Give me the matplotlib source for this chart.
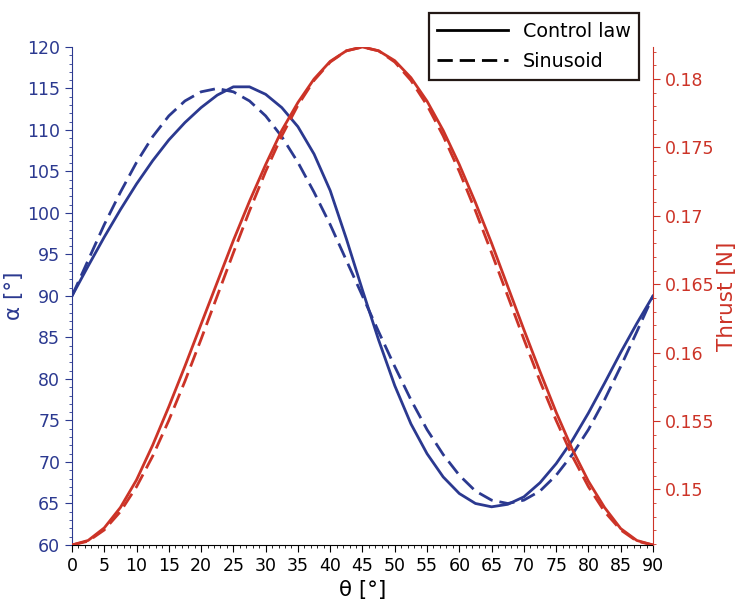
import numpy as np
import matplotlib
matplotlib.use("Agg")
import matplotlib.pyplot as plt
from matplotlib.lines import Line2D
from matplotlib.ticker import MultipleLocator

## Data (theta in degrees, every 2.5)
theta = np.arange(0, 90.1, 2.5)

alpha_law = [90.0, 93.6, 97.1, 100.4, 103.5, 106.3, 108.8, 110.9, 112.7, 114.2,
             115.2, 115.2, 114.3, 112.7, 110.4, 107.1, 102.7, 96.9, 90.7, 84.7,
             79.2, 74.6, 71.0, 68.2, 66.2, 65.0, 64.6, 64.9, 65.8, 67.5,
             69.8, 72.6, 75.9, 79.5, 83.2, 86.7, 90.0]
alpha_sin = [90.0, 94.3, 98.6, 102.5, 106.1, 109.2, 111.7, 113.5, 114.6, 115.0,
             114.6, 113.5, 111.7, 109.2, 106.1, 102.5, 98.6, 94.3, 90.0, 85.7,
             81.5, 77.5, 73.9, 70.9, 68.4, 66.5, 65.4, 65.0, 65.4, 66.5,
             68.4, 70.9, 73.9, 77.5, 81.5, 85.7, 90.0]

thrust_law = [0.14593, 0.14626, 0.14718, 0.14867, 0.15069, 0.15323, 0.15604, 0.15901,
              0.16208, 0.16514, 0.16820, 0.17107, 0.17375, 0.17625, 0.17829, 0.18001,
              0.18130, 0.18207, 0.18235, 0.18207, 0.18135, 0.18011, 0.17839, 0.17625,
              0.17375, 0.17097, 0.16800, 0.16484, 0.16168, 0.15861, 0.15564, 0.15293,
              0.15059, 0.14867, 0.14713, 0.14626, 0.14593]
thrust_sin = [0.14593, 0.14621, 0.14703, 0.14837, 0.15019, 0.15243, 0.15504, 0.15791,
              0.16098, 0.16414, 0.16730, 0.17037, 0.17325, 0.17585, 0.17809, 0.17991,
              0.18125, 0.18207, 0.18235, 0.18207, 0.18125, 0.17991, 0.17809, 0.17585,
              0.17325, 0.17037, 0.16730, 0.16414, 0.16098, 0.15791, 0.15504, 0.15243,
              0.15019, 0.14837, 0.14703, 0.14621, 0.14593]

blue = "#2b3990"
red = "#cc3327"
dash = (0, (5.5, 2.5))

fig = plt.figure(figsize=(7.39, 6.01), dpi=100)
ax = fig.add_axes([0.0974, 0.0932, 0.7862, 0.8286])
ax2 = ax.twinx()

ax.plot(theta, alpha_law, "-", color=blue, lw=2)
ax.plot(theta, alpha_sin, linestyle=dash, color=blue, lw=2)
ax2.plot(theta, thrust_law, "-", color=red, lw=2)
ax2.plot(theta, thrust_sin, linestyle=dash, color=red, lw=2)

ax.set_xlim(0, 90)
ax.set_ylim(60, 120)
ax2.set_ylim(0.14593, 0.18235)

ax.xaxis.set_major_locator(MultipleLocator(5))
ax.xaxis.set_minor_locator(MultipleLocator(1))
ax.yaxis.set_major_locator(MultipleLocator(5))
ax.yaxis.set_minor_locator(MultipleLocator(1))
ax2.yaxis.set_minor_locator(MultipleLocator(0.001))
ax2.set_yticks([0.15, 0.155, 0.16, 0.165, 0.17, 0.175, 0.18])
ax2.set_yticklabels(["0.15", "0.155", "0.16", "0.165", "0.17", "0.175", "0.18"])

# spines
for a in (ax, ax2):
    a.spines["top"].set_visible(False)
ax.spines["right"].set_visible(False)
ax2.spines["left"].set_visible(False)
ax2.spines["bottom"].set_visible(False)
ax.spines["left"].set_color(blue)
ax2.spines["right"].set_color(red)

ax.tick_params(axis="x", which="major", direction="out", length=5, labelsize=12.5, colors="black")
ax.tick_params(axis="x", which="minor", direction="out", length=2.5)
ax.tick_params(axis="y", which="major", direction="out", length=5, labelsize=12.5, colors=blue)
ax.tick_params(axis="y", which="minor", direction="out", length=2.5, colors=blue)
ax2.tick_params(axis="y", which="major", direction="out", length=5, labelsize=12.5, colors=red)
ax2.tick_params(axis="y", which="minor", direction="out", length=2.5, colors=red)

ax.set_xlabel("θ [°]", fontsize=15.5, labelpad=4)
ax.set_ylabel("α [°]", fontsize=15.5, color=blue, labelpad=2)
ax2.set_ylabel("Thrust [N]", fontsize=15.5, color=red, labelpad=2)

handles = [Line2D([], [], color="black", lw=2, linestyle="-"),
           Line2D([], [], color="black", lw=2, linestyle=dash)]
leg = ax2.legend(handles, ["Control law", "Sinusoid"], loc="upper right",
                 bbox_to_anchor=(0.8647, 0.9784), bbox_transform=fig.transFigure,
                 fontsize=13.8, fancybox=False, framealpha=1, edgecolor="#231815",
                 handlelength=3.7, handletextpad=0.75, borderpad=0.45,
                 labelspacing=0.6, borderaxespad=0)
leg.get_frame().set_linewidth(1.6)

fig.savefig("out.png", dpi=100)
